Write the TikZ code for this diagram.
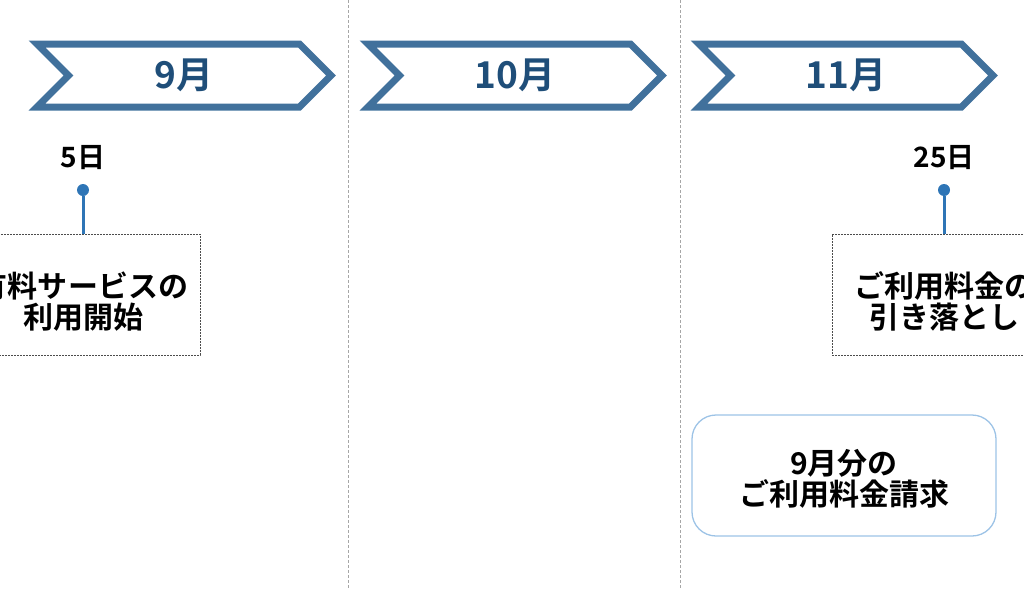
\documentclass[tikz,border=0pt]{standalone}
\usepackage{fontspec}
\setmainfont{Noto Sans CJK JP}[BoldFont={Noto Sans CJK JP Bold}]
\usetikzlibrary{shapes.symbols, positioning}
\definecolor{chevblue}{HTML}{41719C}
\definecolor{monthblue}{HTML}{1F4E79}
\definecolor{pinblue}{HTML}{2E75B6}
\definecolor{roundblue}{HTML}{9DC3E6}
\definecolor{sepgray}{HTML}{A6A6A6}

\begin{document}
\begin{tikzpicture}[x=1pt, y=-1pt,
  month/.style={draw=chevblue, line width=7pt, signal, signal from=west, signal to=east,
    minimum width=294pt, minimum height=63pt, inner sep=0pt, text=monthblue,
    font=\fontsize{37}{40}\selectfont\bfseries},
  day/.style={font=\fontsize{28}{30}\selectfont\bfseries},
  pin/.style={circle, fill=pinblue, inner sep=0pt, minimum size=12pt},
  event/.style={draw=black!70, dash pattern=on 2pt off 1pt, line width=1pt, minimum height=121pt,
    inner sep=0pt},
  eventtext/.style={align=center, inner sep=0pt, font=\fontsize{30}{31}\selectfont\bfseries},
  bill/.style={draw=roundblue, line width=1.3pt, rounded corners=24pt, minimum width=304pt,
    minimum height=121pt, inner sep=0pt, align=center, font=\fontsize{30}{31}\selectfont\bfseries}]
\useasboundingbox (0,0) rectangle (1024,589);
% Separators
\coordinate (s1t) at (348,0);
\coordinate (s1b) at (348,589);
\coordinate (s2t) at (680,0);
\coordinate (s2b) at (680,589);
\draw[sepgray, dash pattern=on 3pt off 2pt, line width=0.8pt] (s1t)--(s1b);
\draw[sepgray, dash pattern=on 3pt off 2pt, line width=0.8pt] (s2t)--(s2b);
% Months
\node[month] (m9) at (184,75.5) {9月};
\node[month] (m10) at (515,75.5) {10月};
\node[month] (m11) at (846,75.5) {11月};
% Start of service
\node[day] (d5) at (83,158) {5日};
\node[pin] (p5) at (83,190) {};
\node[event, minimum width=234pt] (e5) at (83,294.5) {};
\node[eventtext] (t5) at ([yshift=-7pt]e5.center) {有料サービスの\\利用開始};
\draw[pinblue, line width=3pt] (p5)--(e5.north);
% Debit
\node[day] (d25) at (944,158) {25日};
\node[pin] (p25) at (944,190) {};
\node[event, minimum width=224pt] (e25) at (944,294.5) {};
\node[eventtext] (t25) at ([yshift=-7pt]e25.center) {ご利用料金の\\引き落とし};
\draw[pinblue, line width=3pt] (p25)--(e25.north);
% Invoice
\node[bill] (inv) at (844,475.5) {};
\node[eventtext] (tinv) at ([yshift=-3pt]inv.center) {9月分の\\ご利用料金請求};
\end{tikzpicture}
\end{document}
